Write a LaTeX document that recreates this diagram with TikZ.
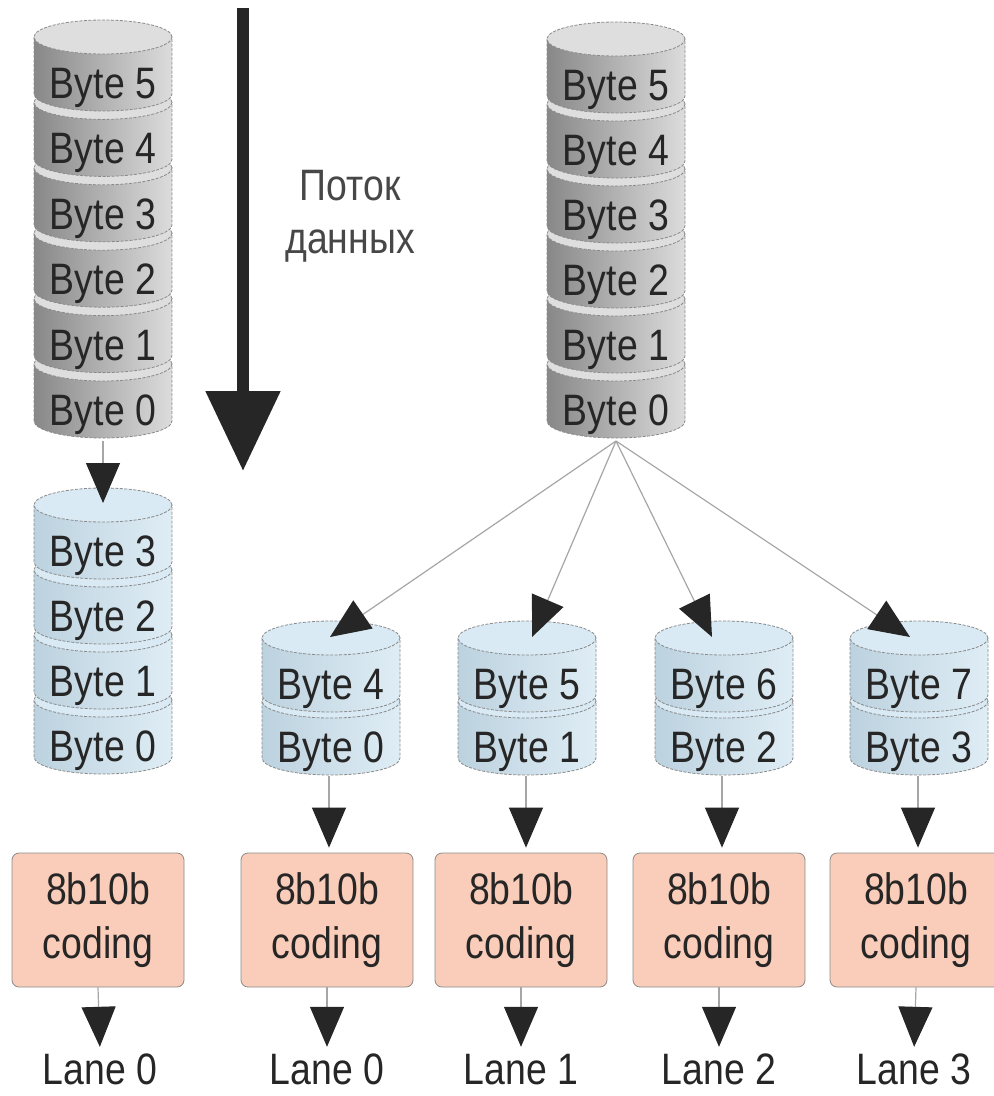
\documentclass[tikz,border=0pt]{standalone}
\usepackage{fontspec}
\newfontfamily\labelfont[FakeStretch=0.85]{Liberation Sans}
\usetikzlibrary{arrows.meta}

\definecolor{ink}{HTML}{262626}
\definecolor{edge}{HTML}{8A8A8A}
\definecolor{grayL}{HTML}{888888}
\definecolor{grayM}{HTML}{C2C2C2}
\definecolor{grayR}{HTML}{DCDCDC}
\definecolor{grayTop}{HTML}{DEDEDE}
\definecolor{blueL}{HTML}{BCD2DF}
\definecolor{blueM}{HTML}{D2E4EE}
\definecolor{blueR}{HTML}{DFEDF5}
\definecolor{blueTop}{HTML}{D9EAF4}
\definecolor{coder}{HTML}{F9CDB9}

\tikzset{
  txt/.style={font=\labelfont\fontsize{44}{54}\selectfont, text=ink, inner sep=0pt},
  disk edge/.style={draw=edge, line width=0.8pt, dash pattern=on 3pt off 1.5pt},
  graybody/.style={left color=grayL, middle color=grayM, right color=grayR},
  graytop/.style={fill=grayTop},
  bluebody/.style={left color=blueL, middle color=blueM, right color=blueR},
  bluetop/.style={fill=blueTop},
  disk label/.style={txt, anchor=base},
  lane/.style={txt, anchor=base, text height=32pt, text depth=0pt},
  coderbox/.style={txt, draw=edge, line width=0.8pt, fill=coder, rounded corners=7pt,
    minimum width=172pt, minimum height=134pt, align=center},
  feed/.style={draw=gray!70, line width=1.2pt,
    -{Triangle[width=34pt,length=40pt,color=ink]}},
}

% #1 name prefix, #2 centre x, #3 centre of the topmost ellipse,
% #4 pitch between disks, #5 colour scheme, #6 list "position/label", bottom disk first
\newcommand\diskstack[6]{%
  \foreach \i/\t in {#6}{%
    \pgfmathsetmacro\yt{#3+\i*#4}%
    \pgfmathsetmacro\yb{\yt+57}%
    \path[#5body, disk edge] (#2-69,\yt) -- (#2-69,\yb)
      arc[start angle=180, end angle=360, x radius=69pt, y radius=17pt]
      -- (#2+69,\yt) -- cycle;
    \path[#5top, disk edge] (#2,\yt) ellipse[x radius=69pt, y radius=17pt];
    \node[disk label] (#1\i) at (#2,\yt+17+28.5+16) {\t};
  }%
}

\begin{document}
\begin{tikzpicture}[x=1pt,y=-1pt]
\useasboundingbox (0,0) rectangle (994,1096);

% data-flow arrow and its caption
\coordinate (flowtop) at (243,8);
\coordinate (flowtip) at (243,471);
\draw[line width=12pt, ink, -{Triangle[width=72pt,length=80pt]}] (flowtop) -- (flowtip);
\node[txt, anchor=base, text=ink!85] (flow1) at (350,200) {Поток};
\node[txt, anchor=base, text=ink!85] (flow2) at (350,253) {данных};

% input byte streams
\diskstack{gl}{103}{37}{65.4}{gray}{5/Byte 0,4/Byte 1,3/Byte 2,2/Byte 3,1/Byte 4,0/Byte 5}
\diskstack{gr}{616}{39}{65}{gray}{5/Byte 0,4/Byte 1,3/Byte 2,2/Byte 3,1/Byte 4,0/Byte 5}

% single lane buffer
\diskstack{bl}{103}{505}{65}{blue}{3/Byte 0,2/Byte 1,1/Byte 2,0/Byte 3}

% four lane buffers
\diskstack{qa}{331}{638}{63}{blue}{1/Byte 0,0/Byte 4}
\diskstack{qb}{527}{638}{63}{blue}{1/Byte 1,0/Byte 5}
\diskstack{qc}{724}{638}{63}{blue}{1/Byte 2,0/Byte 6}
\diskstack{qd}{919}{638}{63}{blue}{1/Byte 3,0/Byte 7}

% encoders
\node[coderbox] (c0) at (98,920) {8b10b\\coding};
\node[coderbox] (c1) at (327,920) {8b10b\\coding};
\node[coderbox] (c2) at (521,920) {8b10b\\coding};
\node[coderbox] (c3) at (719,920) {8b10b\\coding};
\node[coderbox] (c4) at (916,920) {8b10b\\coding};

% lane names
\node[lane] (l0) at (100,1084) {Lane 0};
\node[lane] (l1) at (327,1084) {Lane 0};
\node[lane] (l2) at (521,1084) {Lane 1};
\node[lane] (l3) at (719,1084) {Lane 2};
\node[lane] (l4) at (914,1084) {Lane 3};

% stack outlets and inlets
\coordinate (glout) at (103,441);
\coordinate (blin)  at (103,503);
\coordinate (grout) at (616,441);
\coordinate (qain) at (330,637);
\coordinate (qbin) at (532,637);
\coordinate (qcin) at (712,637);
\coordinate (qdin) at (910,637);
\coordinate (qaout) at (329,776);
\coordinate (qbout) at (526,776);
\coordinate (qcout) at (722,776);
\coordinate (qdout) at (918,776);

\draw[feed] (glout) -- (blin);
\draw[feed] (grout) -- (qain);
\draw[feed] (grout) -- (qbin);
\draw[feed] (grout) -- (qcin);
\draw[feed] (grout) -- (qdin);

\draw[feed, shorten >=5pt] (qaout) -- (c1.north -| qaout);
\draw[feed, shorten >=5pt] (qbout) -- (c2.north -| qbout);
\draw[feed, shorten >=5pt] (qcout) -- (c3.north -| qcout);
\draw[feed, shorten >=5pt] (qdout) -- (c4.north -| qdout);

\foreach \k in {0,...,4}{
  \draw[feed, shorten >=5pt] (c\k.south) -- (l\k.north);
}
\end{tikzpicture}
\end{document}
